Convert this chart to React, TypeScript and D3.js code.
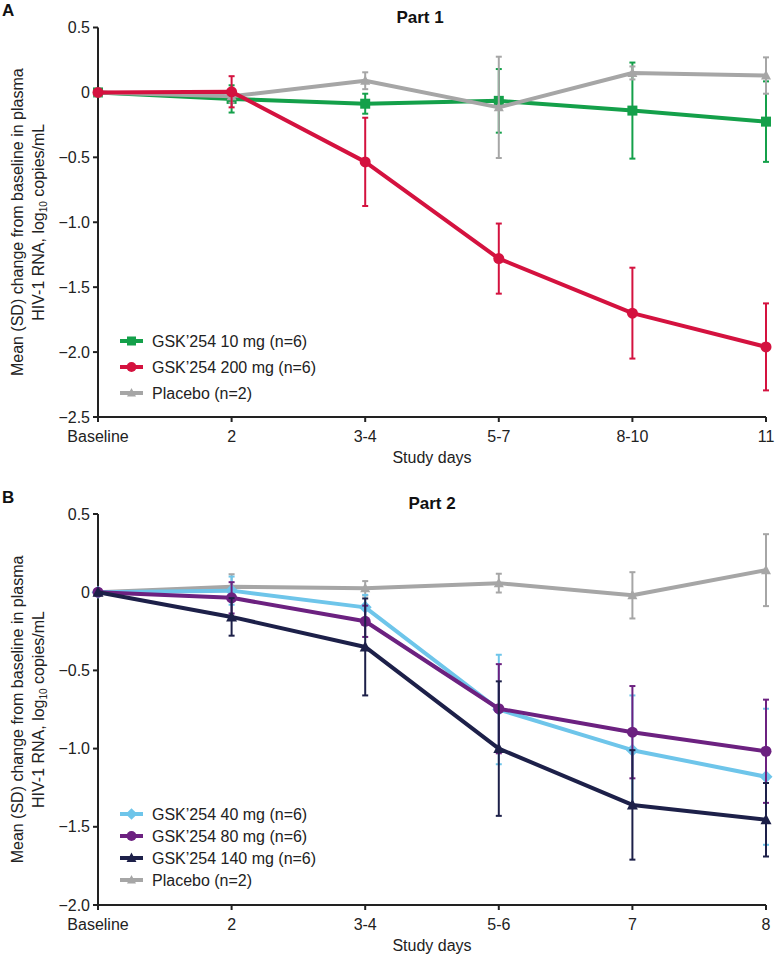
import React from "react";
import * as d3 from "d3";

const categoriesA = ["Baseline", "2", "3-4", "5-7", "8-10", "11"];
const p1Mg10 = [0, -0.05, -0.087, -0.065, -0.14, -0.225];
const p1Mg10Sd = [0, 0.105, 0.077, 0.245, 0.37, 0.31];
const p1Mg200 = [0, 0.005, -0.535, -1.28, -1.7, -1.96];
const p1Mg200Sd = [0, 0.12, 0.34, 0.27, 0.35, 0.335];
const p1Placebo = [0, -0.03, 0.09, -0.115, 0.15, 0.13];
const p1PlaceboSd = [0, 0.05, 0.065, 0.39, 0.05, 0.14];
const yTicksA = [0.5, 0, -0.5, -1.0, -1.5, -2.0, -2.5];

const categoriesB = ["Baseline", "2", "3-4", "5-6", "7", "8"];
const p2Mg40 = [0, 0.01, -0.097, -0.75, -1.01, -1.18];
const p2Mg40Sd = [0, 0.09, 0.08, 0.35, 0.35, 0.435];
const p2Mg80 = [0, -0.036, -0.186, -0.745, -0.895, -1.017];
const p2Mg80Sd = [0, 0.1, 0.1, 0.285, 0.295, 0.33];
const p2Mg140 = [0, -0.158, -0.35, -1.0, -1.36, -1.455];
const p2Mg140Sd = [0, 0.12, 0.31, 0.43, 0.35, 0.235];
const p2Placebo = [0, 0.035, 0.025, 0.058, -0.02, 0.141];
const p2PlaceboSd = [0, 0.08, 0.046, 0.06, 0.148, 0.23];
const yTicksB = [0.5, 0, -0.5, -1.0, -1.5, -2.0];

const FONT = "'Liberation Sans', Arial, sans-serif";

type Series = {
  name: string;
  values: number[];
  sd: number[];
  color: string;
  shape: "square" | "circle" | "diamond" | "triangle" | "smalltri";
};

const seriesA: Series[] = [
  { name: "GSK\u2019254 10 mg (n=6)", values: p1Mg10, sd: p1Mg10Sd, color: "#14a04a", shape: "square" },
  { name: "GSK\u2019254 200 mg (n=6)", values: p1Mg200, sd: p1Mg200Sd, color: "#d4123f", shape: "circle" },
  { name: "Placebo (n=2)", values: p1Placebo, sd: p1PlaceboSd, color: "#a6a6a6", shape: "smalltri" },
];
const drawOrderA = [0, 2, 1];

const seriesB: Series[] = [
  { name: "GSK\u2019254 40 mg (n=6)", values: p2Mg40, sd: p2Mg40Sd, color: "#6ec5ea", shape: "diamond" },
  { name: "GSK\u2019254 80 mg (n=6)", values: p2Mg80, sd: p2Mg80Sd, color: "#6c2180", shape: "circle" },
  { name: "GSK\u2019254 140 mg (n=6)", values: p2Mg140, sd: p2Mg140Sd, color: "#1d2049", shape: "triangle" },
  { name: "Placebo (n=2)", values: p2Placebo, sd: p2PlaceboSd, color: "#a6a6a6", shape: "smalltri" },
];
const drawOrderB = [3, 0, 1, 2];

function Marker({ shape, x, y, color, scale = 1 }: { shape: string; x: number; y: number; color: string; scale?: number }) {
  const s = scale;
  if (shape === "square") return <rect x={x - 5 * s} y={y - 5 * s} width={10 * s} height={10 * s} fill={color} />;
  if (shape === "circle") return <circle cx={x} cy={y} r={5.5 * s} fill={color} />;
  if (shape === "diamond")
    return <path d={`M${x},${y - 6.5 * s}L${x + 6.5 * s},${y}L${x},${y + 6.5 * s}L${x - 6.5 * s},${y}Z`} fill={color} />;
  if (shape === "triangle")
    return <path d={`M${x},${y - 6 * s}L${x + 5.5 * s},${y + 4.5 * s}L${x - 5.5 * s},${y + 4.5 * s}Z`} fill={color} />;
  return <path d={`M${x},${y - 5.5 * s}L${x + 5 * s},${y + 4 * s}L${x - 5 * s},${y + 4 * s}Z`} fill={color} />;
}

function Panel(props: {
  categories: string[];
  series: Series[];
  order: number[];
  yTicks: number[];
  yDomain: [number, number];
  top: number;
  bottom: number;
  letter: string;
  letterY: number;
  title: string;
  titleX: number;
  titleY: number;
  legendY: number;
  legendStep: number;
}) {
  const { categories, series, order, yTicks, yDomain, top, bottom } = props;
  const left = 98;
  const right = 766;
  const x = d3.scalePoint<string>().domain(categories).range([left, right]);
  const y = d3.scaleLinear().domain(yDomain).range([bottom, top]);
  const line = d3
    .line<number>()
    .x((_, i) => x(categories[i]) as number)
    .y((d) => y(d));
  const midY = (top + bottom) / 2;
  const fmt = (v: number) => (v === 0 ? "0" : v < 0 ? "\u2212" + Math.abs(v).toFixed(1) : v.toFixed(1));
  return (
    <g>
      <text x={2} y={props.letterY} fontFamily={FONT} fontWeight="bold" fontSize={17} fill="#111">
        {props.letter}
      </text>
      <text x={props.titleX} y={props.titleY} fontFamily={FONT} fontWeight="bold" fontSize={17} fill="#111" textAnchor="middle">
        {props.title}
      </text>
      <line x1={left} x2={left} y1={top} y2={bottom} stroke="#222" strokeWidth={2} />
      <line x1={left} x2={right} y1={bottom} y2={bottom} stroke="#222" strokeWidth={2} />
      {yTicks.map((t) => (
        <g key={`yt${t}`}>
          <line x1={left - 5} x2={left} y1={y(t)} y2={y(t)} stroke="#222" strokeWidth={2} />
          <text x={left - 8} y={y(t) + 5.5} textAnchor="end" fontFamily={FONT} fontSize={16} fill="#222">
            {fmt(t)}
          </text>
        </g>
      ))}
      {categories.map((c) => (
        <g key={`xt${c}`}>
          <line x1={x(c)} x2={x(c)} y1={bottom} y2={bottom + 5} stroke="#222" strokeWidth={2} />
          <text x={x(c)} y={bottom + 25} textAnchor="middle" fontFamily={FONT} fontSize={16} fill="#222">
            {c}
          </text>
        </g>
      ))}
      <text x={(left + right) / 2} y={bottom + 46} textAnchor="middle" fontFamily={FONT} fontSize={16} fill="#222">
        Study days
      </text>
      <g fontFamily={FONT} fontSize={16} fill="#222">
        <text transform={`translate(23,${midY}) rotate(-90)`} textAnchor="middle">
          Mean (SD) change from baseline in plasma
        </text>
        <text transform={`translate(44,${midY}) rotate(-90)`} textAnchor="middle">
          HIV-1 RNA, log<tspan fontSize={10} dy={3}>10</tspan>
          <tspan dy={-3}> copies/mL</tspan>
        </text>
      </g>
      {order.map((si) => {
        const s = series[si];
        return (
          <g key={s.name}>
            {s.values.map((v, i) =>
              s.sd[i] > 0 ? (
                <g key={i} stroke={s.color} strokeWidth={2}>
                  <line x1={x(categories[i])} x2={x(categories[i])} y1={y(v + s.sd[i])} y2={y(v - s.sd[i])} />
                  <line x1={(x(categories[i]) as number) - 3} x2={(x(categories[i]) as number) + 3} y1={y(v + s.sd[i])} y2={y(v + s.sd[i])} />
                  <line x1={(x(categories[i]) as number) - 3} x2={(x(categories[i]) as number) + 3} y1={y(v - s.sd[i])} y2={y(v - s.sd[i])} />
                </g>
              ) : null
            )}
            <path d={line(s.values) || ""} fill="none" stroke={s.color} strokeWidth={4} strokeLinejoin="round" />
            {s.values.map((v, i) => (
              <Marker key={`m${i}`} shape={s.shape} x={x(categories[i]) as number} y={y(v)} color={s.color} />
            ))}
          </g>
        );
      })}
      {series.map((s, i) => {
        const ly = props.legendY + i * props.legendStep;
        return (
          <g key={`lg${i}`}>
            <line x1={120} x2={143} y1={ly} y2={ly} stroke={s.color} strokeWidth={4} />
            <Marker shape={s.shape} x={131.5} y={ly} color={s.color} scale={0.9} />
            <text x={152} y={ly + 5.5} fontFamily={FONT} fontSize={16} fill="#222">
              {s.name}
            </text>
          </g>
        );
      })}
    </g>
  );
}

export default function App() {
  return (
    <svg width={776} height={957} style={{ position: "absolute", left: 0, top: 0, background: "#fff" }}>
      <rect width={776} height={957} fill="#fff" />
      <Panel
        categories={categoriesA}
        series={seriesA}
        order={drawOrderA}
        yTicks={yTicksA}
        yDomain={[-2.5, 0.5]}
        top={27.5}
        bottom={417}
        letter="A"
        letterY={16}
        title="Part 1"
        titleX={420}
        titleY={23}
        legendY={341}
        legendStep={26}
      />
      <Panel
        categories={categoriesB}
        series={seriesB}
        order={drawOrderB}
        yTicks={yTicksB}
        yDomain={[-2.0, 0.5]}
        top={514}
        bottom={905}
        letter="B"
        letterY={503}
        title="Part 2"
        titleX={432}
        titleY={509}
        legendY={814}
        legendStep={22}
      />
    </svg>
  );
}
